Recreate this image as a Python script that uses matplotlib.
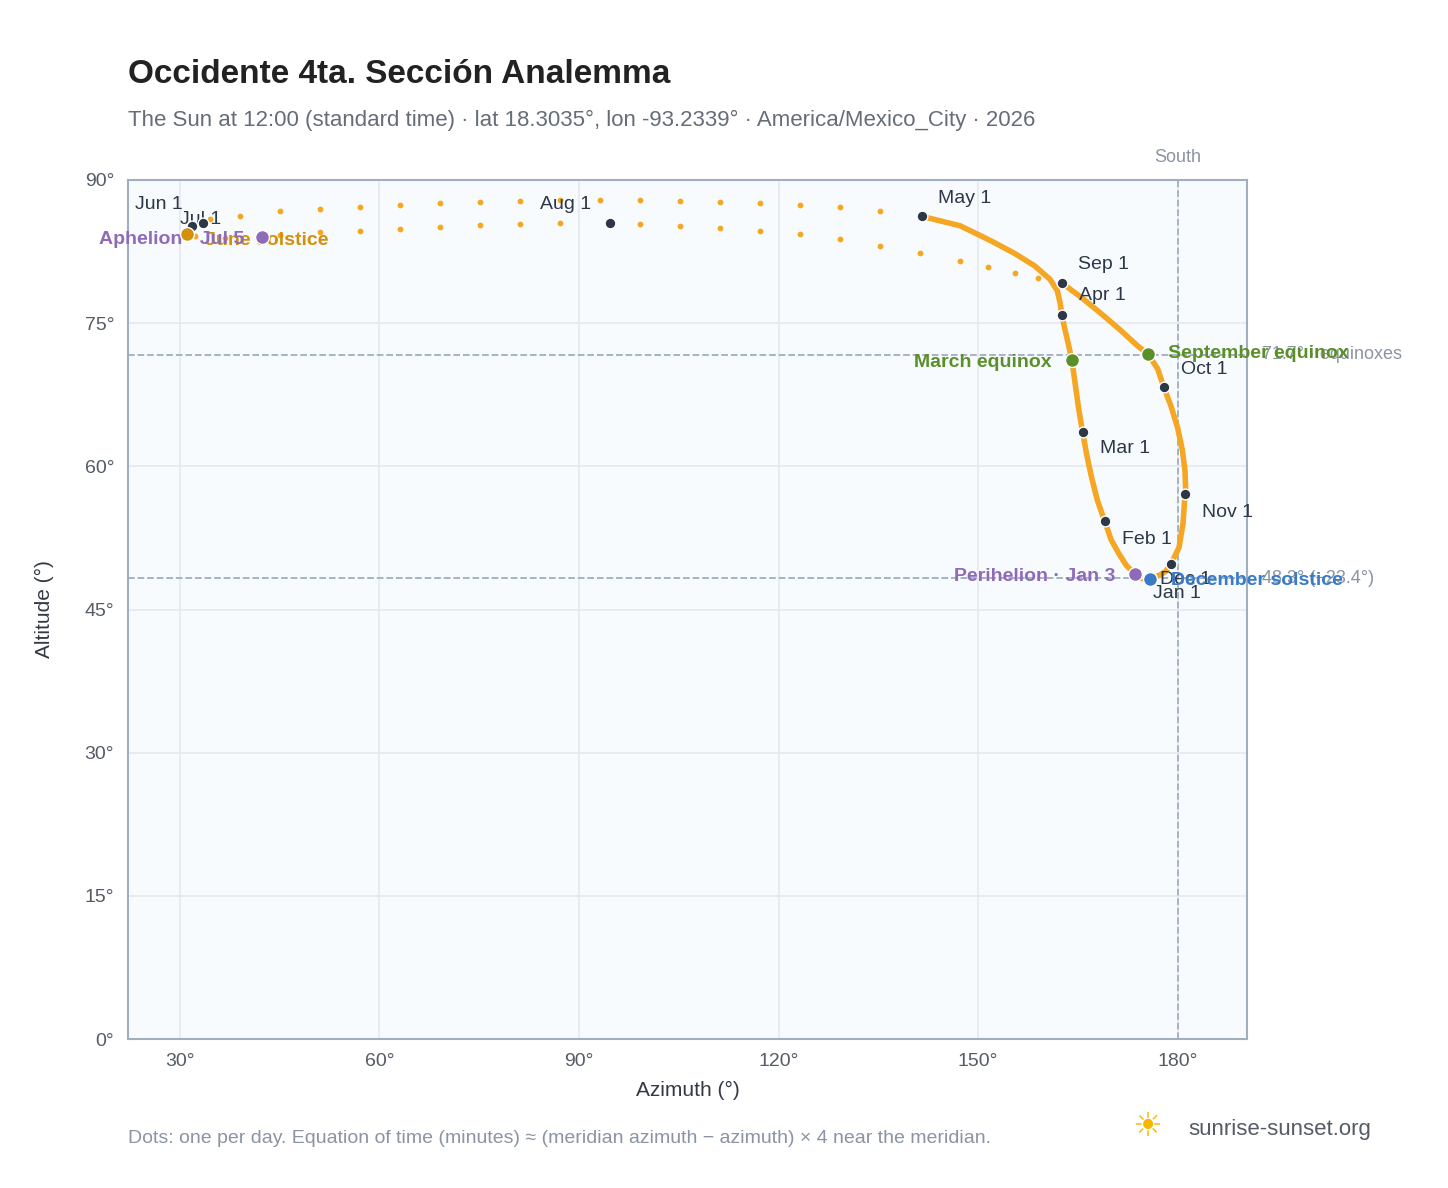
import matplotlib.pyplot as plt

plt.rcParams['font.family'] = ['Liberation Sans', 'DejaVu Sans']

# winter arc (Sep 1 -> Dec -> Jan -> May 1), dense daily dots drawn as a thick line
arc_az = [162.6, 165.5, 168.5, 171.5, 174.0, 175.5, 177.0, 177.9, 179.0, 180.0, 180.7,
          181.1, 181.2, 181.1, 180.8, 180.2, 179.5, 179.0, 178.2, 177.3, 176.5, 175.8,
          175.0, 174.3, 173.6, 172.3, 171.2, 170.0, 169.0, 167.9, 167.0, 166.3, 165.7,
          165.1, 164.6, 164.1, 163.5, 162.9, 162.6, 162.3, 161.9, 160.8, 158.5, 155.5,
          152.0, 147.3, 141.5]
arc_alt = [79.2, 77.7, 76.0, 74.2, 72.6, 71.8, 70.2, 68.3, 66.3, 64.0, 61.7,
           59.5, 57.5, 57.1, 54.0, 51.5, 50.5, 49.8, 49.0, 48.6, 48.4, 48.2,
           48.2, 48.3, 48.7, 49.6, 50.8, 52.3, 54.3, 56.5, 59.0, 61.3, 63.6,
           66.1, 68.6, 71.1, 73.0, 74.8, 75.9, 77.2, 78.4, 79.6, 81.0, 82.3,
           83.6, 85.2, 86.2]
# summer dots (May 1 -> Jun -> Jul -> Sep 1), sparse
top_az = [141.5, 135.2, 129.2, 123.2, 117.2, 111.2, 105.2, 99.1, 93.1, 87.1, 81.1, 75.1,
          69.1, 63.1, 57.1, 51.0, 45.0, 39.0, 34.5, 31.8, 31.0, 32.3, 36.8, 42.3,
          45.0, 51.0, 57.1, 63.1, 69.1, 75.1, 81.1, 87.1, 94.6, 99.1, 105.2, 111.2,
          117.2, 123.2, 129.2, 135.2, 141.2, 147.2, 151.5, 155.5, 159.0, 162.6]
top_alt = [86.2, 86.7, 87.2, 87.4, 87.6, 87.7, 87.8, 87.9, 87.9, 87.9, 87.8, 87.7,
           87.6, 87.4, 87.2, 87.0, 86.7, 86.2, 85.9, 85.2, 84.3, 84.1, 83.9, 84.0,
           84.2, 84.5, 84.7, 84.9, 85.1, 85.3, 85.4, 85.5, 85.5, 85.4, 85.2, 85.0,
           84.7, 84.3, 83.8, 83.1, 82.4, 81.5, 80.9, 80.3, 79.7, 79.2]

months = ["Jan 1", "Feb 1", "Mar 1", "Apr 1", "May 1", "Jun 1", "Jul 1", "Aug 1",
          "Sep 1", "Oct 1", "Nov 1", "Dec 1"]
month_az = [175.5, 169.0, 165.7, 162.6, 141.5, 31.8, 33.5, 94.6, 162.6, 177.9, 181.1, 179.0]
month_alt = [48.3, 54.3, 63.6, 75.9, 86.2, 85.2, 85.5, 85.5, 79.2, 68.3, 57.1, 49.8]
month_off = [(5, -15), (17, -19), (17, -17), (17, 19), (16, 18), (-57, 21), (-23, 3),
             (-70, 18), (16, 19), (17, -18), (17, -18), (-11, -16)]

events = [("March equinox", 164.1, 71.1, "#5a8f29", (-20, -2), "right"),
          ("September equinox", 175.5, 71.8, "#5a8f29", (20, 0), "left"),
          ("June solstice", 31.0, 84.3, "#d4900a", (18, -6), "left"),
          ("December solstice", 175.8, 48.2, "#3a7bc8", (21, -2), "left"),
          ("Aphelion · Jul 5", 42.3, 84.0, "#8e6bb8", (-17, -2), "right"),
          ("Perihelion · Jan 3", 173.6, 48.7, "#8e6bb8", (-20, -2), "right")]

fig = plt.figure(figsize=(14.48, 11.88), dpi=100)
ax = fig.add_axes([0.0884, 0.1254, 0.7727, 0.7231])
ax.set_facecolor("#f8fbfe")
ax.set_xlim(22.2, 190.4)
ax.set_ylim(0, 90)
ax.set_xticks([30, 60, 90, 120, 150, 180])
ax.set_xticklabels([f"{v}°" for v in [30, 60, 90, 120, 150, 180]])
ax.set_yticks(range(0, 91, 15))
ax.set_yticklabels([f"{v}°" for v in range(0, 91, 15)])
ax.grid(True, color="#e5e9ef", linewidth=1.2)
ax.set_axisbelow(True)
for s in ax.spines.values():
    s.set_color("#a0aec0")
    s.set_linewidth(1.5)
ax.tick_params(colors="#555c66", labelsize=14, length=0, pad=10)

ax.axvline(180, color="#a0aec0", ls="--", lw=1.3)
ax.text(180, 91.5, "South", ha="center", va="bottom", color="#8a94a3", fontsize=13)
ax.axhline(71.7, color="#a0aec0", ls="--", lw=1.3)
ax.axhline(48.3, color="#a0aec0", ls="--", lw=1.3)
ax.text(192.6, 71.7, "71.7° · equinoxes", va="center", color="#8a94a3", fontsize=13,
        clip_on=False)
ax.text(192.6, 48.3, "48.3° (−23.4°)", va="center", color="#8a94a3", fontsize=13,
        clip_on=False)

ax.plot(arc_az, arc_alt, color="#f5a623", lw=4, solid_capstyle="round", zorder=3)
ax.scatter(top_az, top_alt, s=10, color="#f5a623", zorder=3)

ax.scatter(month_az, month_alt, s=60, color="#2d3748", edgecolor="white", lw=1, zorder=5)
for m, x, y, off in zip(months, month_az, month_alt, month_off):
    if m == "Oct 1":
        off = (17, 18)
    ax.annotate(m, (x, y), xytext=off, textcoords="offset pixels", fontsize=14,
                color="#2d3748", va="center")
for name, x, y, c, off, ha in events:
    ax.scatter([x], [y], s=100, color=c, edgecolor="white", lw=1, zorder=6)
    ax.annotate(name, (x, y), xytext=off, textcoords="offset pixels", fontsize=14,
                color=c, fontweight="bold", va="center", ha=ha)

ax.set_xlabel("Azimuth (°)", fontsize=15, color="#333a44", labelpad=8)
ax.set_ylabel("Altitude (°)", fontsize=15, color="#333a44", labelpad=22)

fig.text(0.0884, 0.93, "Occidente 4ta. Sección Analemma", fontsize=24, fontweight="bold",
         color="#222222")
fig.text(0.0884, 0.894, "The Sun at 12:00 (standard time) · lat 18.3035°, lon -93.2339° · "
         "America/Mexico_City · 2026", fontsize=16, color="#666d78")
fig.text(0.0884, 0.038, "Dots: one per day. Equation of time (minutes) ≈ (meridian azimuth − "
         "azimuth) × 4 near the meridian.", fontsize=14, color="#8a94a3")
fig.text(0.821, 0.045, "sunrise-sunset.org", fontsize=16, color="#555c66")
fig.text(0.782, 0.043, "☀", fontsize=24, color="#f5b800", family="DejaVu Sans")

fig.savefig("out.png")
